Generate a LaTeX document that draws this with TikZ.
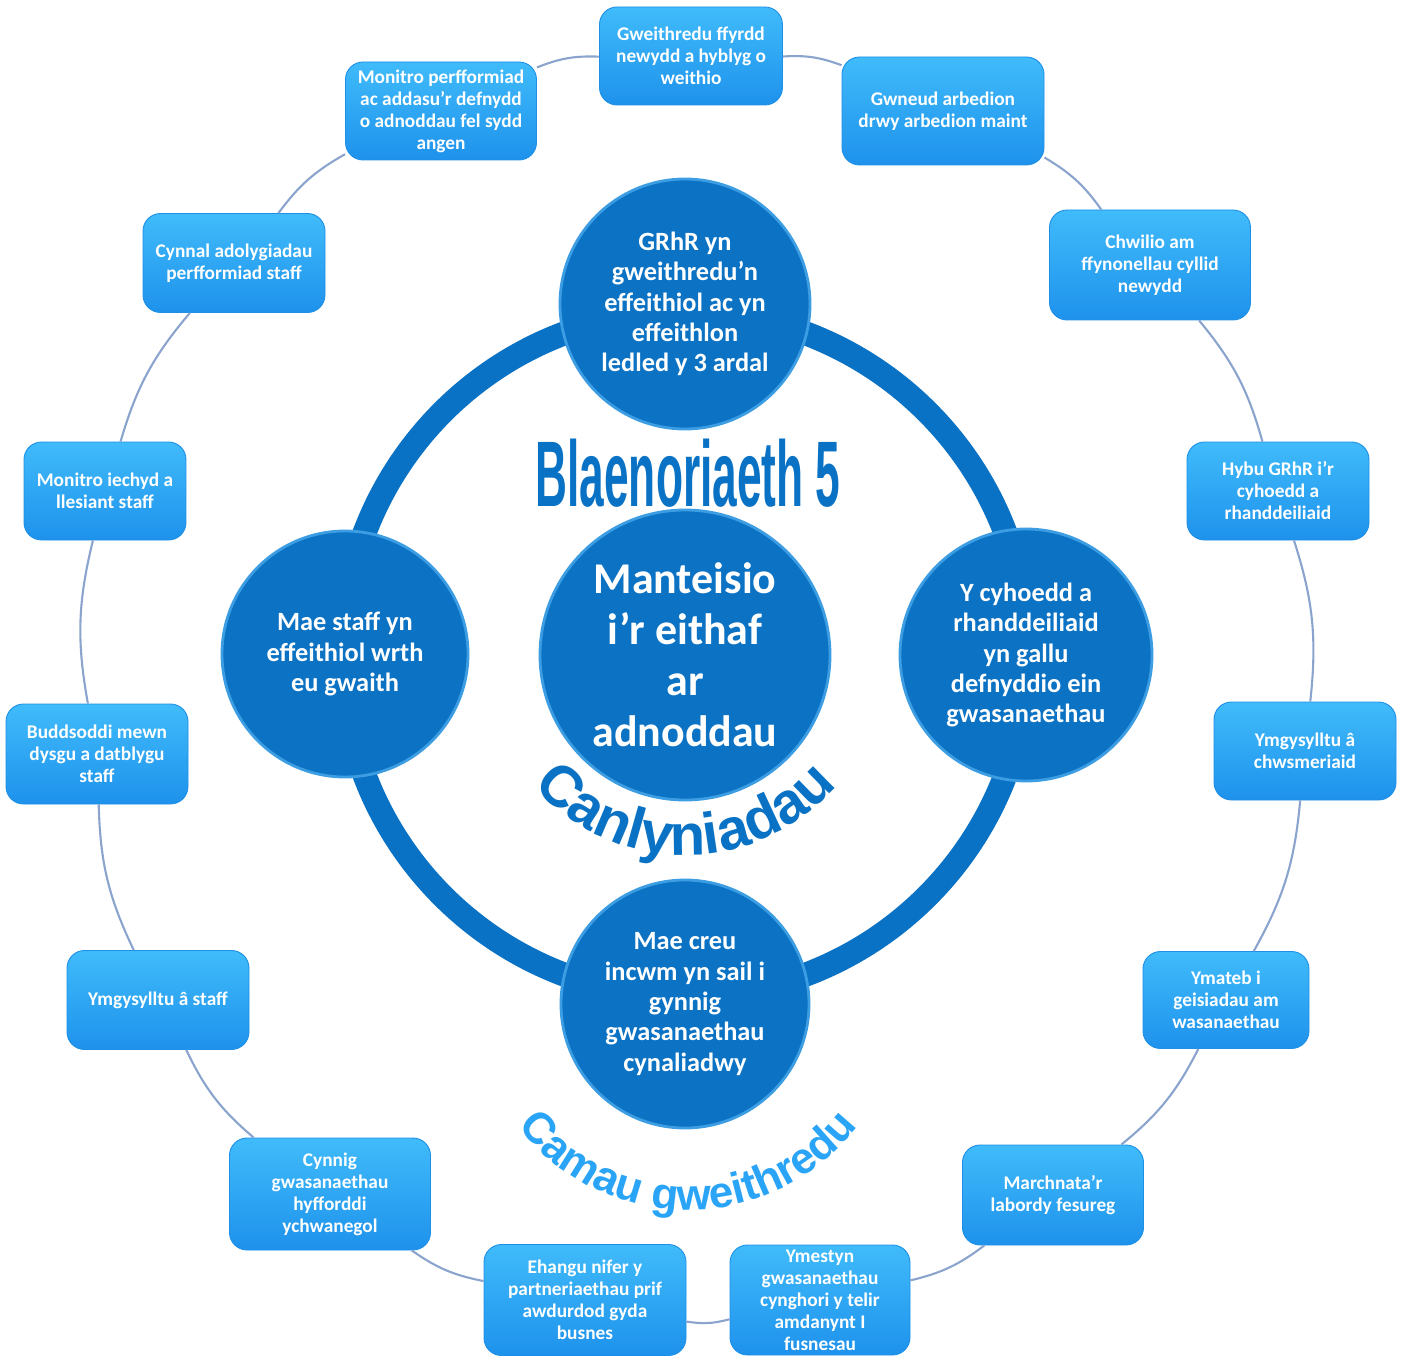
\documentclass[tikz,border=0pt]{standalone}
\usepackage{fontspec}
\setmainfont{Carlito}
\newfontfamily\artfont{Liberation Sans}
\usetikzlibrary{decorations.text}
\definecolor{boxtop}{HTML}{40BBFA}
\definecolor{boxmid}{HTML}{2299F3}
\definecolor{boxbot}{HTML}{1E92EC}
\definecolor{boxedge}{HTML}{1E8FE6}
\definecolor{goalblue}{HTML}{0B72C4}
\definecolor{rimblue}{HTML}{3D9DE3}
\definecolor{ringblue}{HTML}{0A72C4}
\definecolor{linkblue}{HTML}{8AA4CE}
\definecolor{camblue}{HTML}{2AA4F6}

\begin{document}
\begin{tikzpicture}[
  box/.style={rectangle, rounded corners=0.35cm, draw=boxedge, line width=0.5pt,
    top color=boxtop, middle color=boxmid, bottom color=boxbot,
    text=white, align=center, inner sep=1pt,
    font=\fontsize{11}{12.5}\selectfont\bfseries},
  goal/.style={circle, draw=rimblue, line width=1.6pt, fill=goalblue,
    text=white, align=center, inner sep=0pt,
    font=\fontsize{15}{17.3}\selectfont\bfseries},
  link/.style={draw=linkblue, line width=1.2pt},
  ring/.style={draw=ringblue, line width=0.48cm}]
  \useasboundingbox (0,0) rectangle (28.08,-27.14);

  % camau gweithredu round the outside
  \node[box, minimum width=3.66cm, minimum height=1.96cm] (a) at (13.82,-1.12) {Gweithredu ffyrdd\\newydd a hyblyg o\\weithio};
  \node[box, minimum width=4.04cm, minimum height=2.16cm] (b) at (18.86,-2.22) {Gwneud arbedion\\drwy arbedion maint};
  \node[box, minimum width=4.02cm, minimum height=2.20cm] (c) at (23.00,-5.30) {Chwilio am\\ffynonellau cyllid\\newydd};
  \node[box, minimum width=3.64cm, minimum height=1.96cm] (d) at (25.56,-9.82) {Hybu GRhR i’r\\cyhoedd a\\rhanddeiliaid};
  \node[box, minimum width=3.64cm, minimum height=1.96cm] (e) at (26.10,-15.02) {Ymgysylltu â\\chwsmeriaid};
  \node[box, minimum width=3.32cm, minimum height=1.94cm] (f) at (24.52,-20.00) {Ymateb i\\geisiadau am\\wasanaethau};
  \node[box, minimum width=3.62cm, minimum height=2.00cm] (g) at (21.06,-23.90) {Marchnata’r\\labordy fesureg};
  \node[box, minimum width=3.60cm, minimum height=2.20cm] (h) at (16.40,-26.00) {Ymestyn\\gwasanaethau\\cynghori y telir\\amdanynt I\\fusnesau};
  \node[box, minimum width=4.04cm, minimum height=2.22cm] (i) at (11.70,-26.00) {Ehangu nifer y\\partneriaethau prif\\awdurdod gyda\\busnes};
  \node[box, minimum width=4.02cm, minimum height=2.24cm] (j) at (6.60,-23.88) {Cynnig\\gwasanaethau\\hyfforddi\\ychwanegol};
  \node[box, minimum width=3.64cm, minimum height=1.98cm] (k) at (3.16,-20.00) {Ymgysylltu â staff};
  \node[box, minimum width=3.64cm, minimum height=2.00cm] (l) at (1.94,-15.08) {Buddsoddi mewn\\dysgu a datblygu\\staff};
  \node[box, minimum width=3.24cm, minimum height=1.96cm] (m) at (2.10,-9.82) {Monitro iechyd a\\llesiant staff};
  \node[box, minimum width=3.64cm, minimum height=1.98cm] (n) at (4.68,-5.26) {Cynnal adolygiadau\\perfformiad staff};
  \node[box, minimum width=3.82cm, minimum height=1.96cm] (o) at (8.82,-2.22) {Monitro perfformiad\\ac addasu’r defnydd\\o adnoddau fel sydd\\angen};

  \draw[link] (a) to[bend left=12] (b)  (b) to[bend left=12] (c)  (c) to[bend left=12] (d)
    (d) to[bend left=12] (e)  (e) to[bend left=12] (f)  (f) to[bend left=12] (g)
    (g) to[bend left=12] (h)  (h) to[bend left=12] (i)  (i) to[bend left=12] (j)
    (j) to[bend left=12] (k)  (k) to[bend left=12] (l)  (l) to[bend left=12] (m)
    (m) to[bend left=12] (n)  (n) to[bend left=12] (o)  (o) to[bend left=12] (a);

  % canlyniadau on the ring
  \draw[ring] (13.70,-13.08) circle (6.85);
  \node[goal, minimum size=5.00cm] (p) at (13.70,-6.08) {GRhR yn\\gweithredu’n\\effeithiol ac yn\\effeithlon\\ledled y 3 ardal};
  \node[goal, minimum size=4.92cm] (q) at (6.90,-13.08) {Mae staff yn\\effeithiol wrth\\eu gwaith};
  \node[goal, minimum size=5.04cm] (r) at (20.52,-13.10) {Y cyhoedd a\\rhanddeiliaid\\yn gallu\\defnyddio ein\\gwasanaethau};
  \node[goal, minimum size=4.96cm] (s) at (13.70,-20.08) {Mae creu\\incwm yn sail i\\gynnig\\gwasanaethau\\cynaliadwy};
  \node[goal, minimum size=5.80cm, font=\fontsize{25}{29}\selectfont\bfseries] (t) at (13.70,-13.10) {Manteisio\\i’r eithaf\\ar\\adnoddau};

  % word art
  \node[text=ringblue, inner sep=0pt] (u) at (13.76,-9.46) {\resizebox{6.1cm}{1.35cm}{\artfont\bfseries Blaenoriaeth 5}};
  \path[decorate, decoration={text along path, text align=center, text color=ringblue,
    text={|\artfont\bfseries\fontsize{33}{33}\selectfont|Canlyniadau}}]
    (9.941,-14.468) arc[start angle=200, end angle=340, radius=4.0];
  \path[decorate, decoration={text along path, text align=center, text color=camblue,
    text={|\artfont\bfseries\fontsize{25}{25}\selectfont|Camau gweithredu}}]
    (9.719,-21.371) arc[start angle=200, end angle=340, radius=4.3];
\end{tikzpicture}
\end{document}
